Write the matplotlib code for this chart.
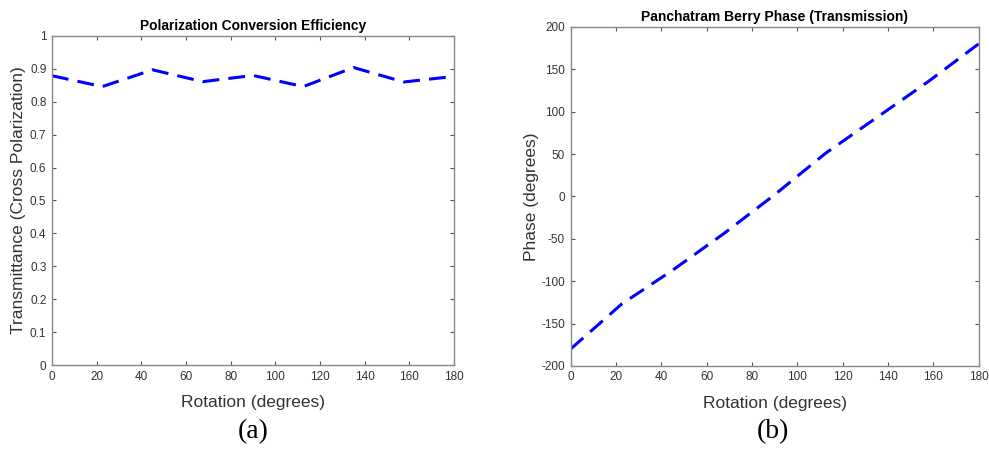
import matplotlib
matplotlib.use("Agg")
import matplotlib.pyplot as plt
from matplotlib.ticker import FuncFormatter

# rotation angles of the unit cell (degrees)
rotation = [0, 22.5, 45, 67.5, 90, 112.5, 135, 157.5, 180]
# cross-polarized transmittance
transmittance = [0.879, 0.846, 0.897, 0.861, 0.880, 0.846, 0.904, 0.860, 0.877]
# transmitted phase (degrees)
phase = [-180, -127, -87, -44, 2, 51, 93, 135, 180]

plt.rcParams['font.family'] = ['Liberation Sans', 'DejaVu Sans']
plt.rcParams['axes.unicode_minus'] = False
axis_col = '#555555'
text_col = '#333333'

fig = plt.figure(figsize=(9.89, 4.49), dpi=100)
ax1 = fig.add_axes([0.0526, 0.187, 0.4065, 0.733])
ax2 = fig.add_axes([0.577, 0.185, 0.4125, 0.755])

ax1.plot(rotation, transmittance, color='#0000ff', lw=2.2, ls='--', dashes=(5.5, 3))
ax1.set_xlim(0, 180)
ax1.set_ylim(0, 1)
ax1.set_xticks(range(0, 181, 20))
ax1.set_yticks([i / 10 for i in range(11)])
ax1.yaxis.set_major_formatter(FuncFormatter(lambda v, p: '%g' % round(v, 1)))
ax1.set_title('Polarization Conversion Efficiency', fontsize=9.9, fontweight='bold', pad=4)
ax1.set_xlabel('Rotation (degrees)', fontsize=12.5, color=text_col, labelpad=9)
ax1.set_ylabel('Transmittance (Cross Polarization)', fontsize=12.5, color=text_col, labelpad=3)

ax2.plot(rotation, phase, color='#0000ff', lw=2.2, ls='--', dashes=(5.5, 3))
ax2.set_xlim(0, 180)
ax2.set_ylim(-200, 200)
ax2.set_xticks(range(0, 181, 20))
ax2.set_yticks(range(-200, 201, 50))
ax2.set_title('Panchatram Berry Phase (Transmission)', fontsize=10, fontweight='bold', pad=4)
ax2.set_xlabel('Rotation (degrees)', fontsize=12.5, color=text_col, labelpad=9)
ax2.set_ylabel('Phase (degrees)', fontsize=12.5, color=text_col, labelpad=2)

for ax in (ax1, ax2):
    ax.tick_params(direction='in', length=3, width=0.8, top=True, right=True,
                   labelsize=8.5, colors=axis_col, labelcolor=text_col, pad=4)
    for s in ax.spines.values():
        s.set_color('#888888')
        s.set_linewidth(1.0)

fig.text(0.2556, 0.038, '(a)', family='Liberation Serif', fontsize=20, ha='center', va='center')
fig.text(0.782, 0.038, '(b)', family='Liberation Serif', fontsize=20, ha='center', va='center')

plt.savefig('out.png', dpi=100)
